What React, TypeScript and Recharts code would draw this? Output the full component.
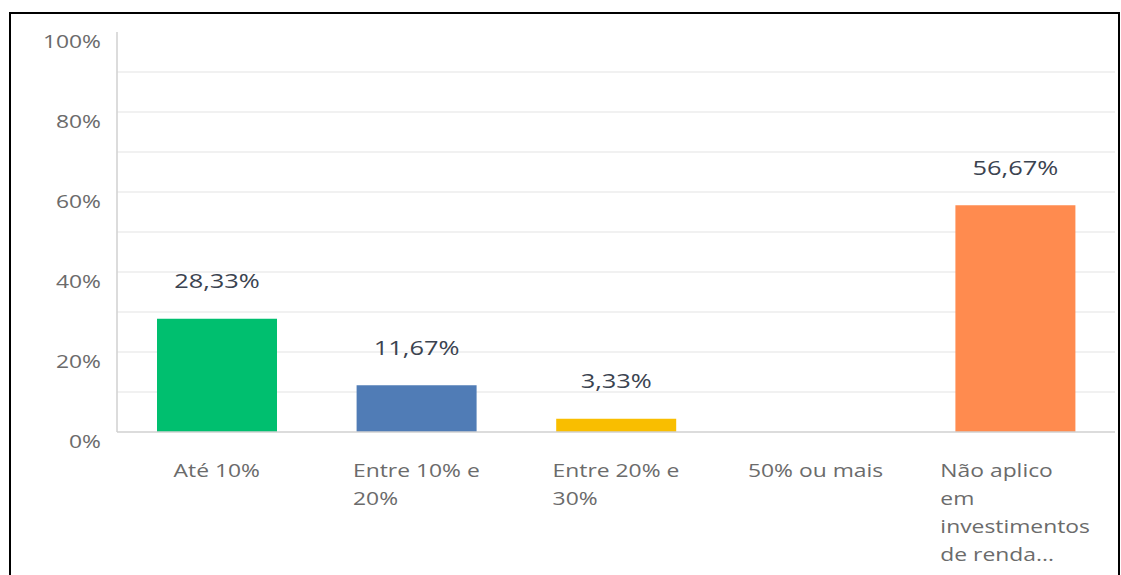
import React from "react";
import { BarChart, Bar, XAxis, YAxis, CartesianGrid, Cell, LabelList } from "recharts";

const categories = ["Até 10%", "Entre 10% e 20%", "Entre 20% e 30%", "50% ou mais", "Não aplico em investimentos de renda..."];
const tickLines = [
  ["Até 10%"],
  ["Entre 10% e", "20%"],
  ["Entre 20% e", "30%"],
  ["50% ou mais"],
  ["Não aplico", "em", "investimentos", "de renda..."],
];
const values = [28.33, 11.67, 3.33, 0, 56.67];
const barColors = ["#00bf6f", "#507cb6", "#f9be00", "#6bc8cd", "#ff8b4f"];
const yTicks = [0, 20, 40, 60, 80, 100];
const gridValues = [10, 20, 30, 40, 50, 60, 70, 80, 90];

const data = categories.map((name, i) => ({ name, value: values[i] }));

const FONT = "'Open Sans', sans-serif";
const STRETCH = 1.27;

let ctx: CanvasRenderingContext2D | null = null;
function textWidth(text: string, size: number) {
  if (!ctx) ctx = document.createElement("canvas").getContext("2d");
  if (!ctx) return text.length * size * 0.55;
  ctx.font = `${size}px 'Open Sans'`;
  return ctx.measureText(text).width;
}

function YTick({ x, y, payload }: any) {
  return (
    <g transform={`translate(${x},${y + 9}) scale(${STRETCH},1)`}>
      <text x={0} y={0} textAnchor="end" dominantBaseline="central" fontSize={18} fontFamily={FONT} fill="#6b6b6b">
        {payload.value}%
      </text>
    </g>
  );
}

function XTick({ x, y, payload }: any) {
  const lines = tickLines[payload.index] || [payload.value];
  const w = Math.max(...lines.map((l) => textWidth(l, 18))) * STRETCH;
  const left = x - w / 2;
  return (
    <g>
      {lines.map((l, i) => (
        <g key={i} transform={`translate(${left},${y + 38 + i * 28}) scale(${STRETCH},1)`}>
          <text x={0} y={0} textAnchor="start" dominantBaseline="central" fontSize={18} fontFamily={FONT} fill="#6b6b6b">
            {l}
          </text>
        </g>
      ))}
    </g>
  );
}

function ValueLabel({ x, y, width, value }: any) {
  if (!value) return null;
  const cx = x + width / 2;
  return (
    <g transform={`translate(${cx},${y - 38}) scale(${STRETCH},1)`}>
      <text x={0} y={0} textAnchor="middle" dominantBaseline="central" fontSize={20} fontFamily={FONT} fill="#3b4350">
        {value.toFixed(2).replace(".", ",")}%
      </text>
    </g>
  );
}

export default function App() {
  return (
    <div style={{ position: "absolute", left: 0, top: 0, width: 1121, height: 575, background: "#fff" }}>
      <div
        style={{
          position: "absolute",
          left: 9,
          top: 12,
          width: 1111,
          height: 563,
          border: "2px solid #000",
          borderBottom: "none",
          boxSizing: "border-box",
        }}
      />
      <div style={{ position: "absolute", left: 0, top: 0 }}>
        <BarChart width={1121} height={575} data={data} margin={{ top: 32, right: 6, bottom: 13, left: 0 }}>
          <CartesianGrid vertical={false} horizontalValues={gridValues} stroke="#ececec" strokeWidth={1.5} />
          <XAxis
            dataKey="name"
            height={130}
            interval={0}
            tickLine={false}
            tickSize={0}
            tickMargin={0}
            axisLine={{ stroke: "#d0d0d0", strokeWidth: 1.5 }}
            tick={<XTick />}
          />
          <YAxis
            width={117}
            domain={[0, 100]}
            ticks={yTicks}
            tickLine={false}
            tickSize={0}
            tickMargin={16}
            axisLine={{ stroke: "#d0d0d0", strokeWidth: 1.5 }}
            tick={<YTick />}
          />
          <Bar dataKey="value" barSize={120} isAnimationActive={false}>
            {data.map((d, i) => (
              <Cell key={d.name} fill={barColors[i]} />
            ))}
            <LabelList dataKey="value" content={<ValueLabel />} />
          </Bar>
        </BarChart>
      </div>
    </div>
  );
}
